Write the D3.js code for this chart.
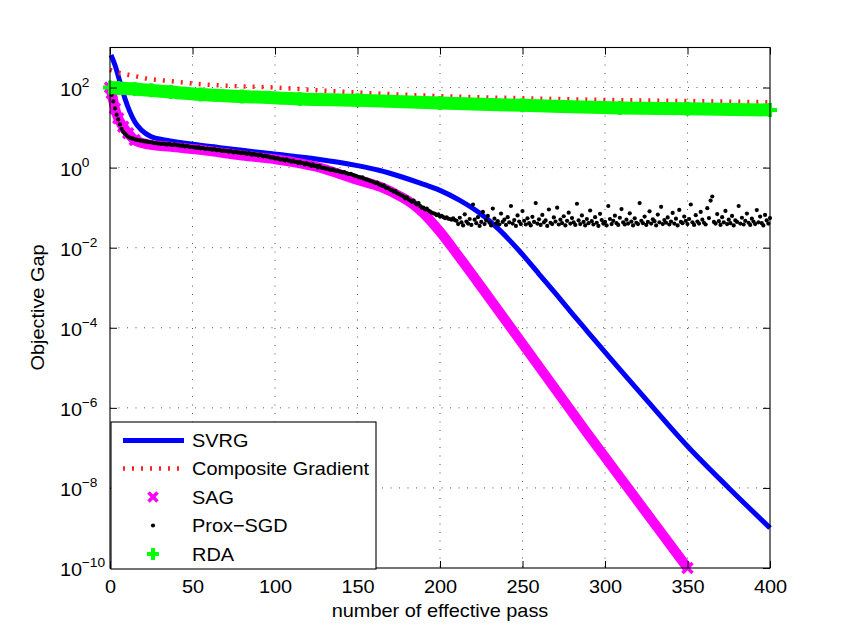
<!DOCTYPE html>
<html>
<head>
<meta charset="utf-8">
<script src="https://cdnjs.cloudflare.com/ajax/libs/d3/7.8.5/d3.min.js"></script>
<style>
  body { margin: 0; background: #fff; }
</style>
</head>
<body>
<div id="main"></div>
<script>
// values (x = effective passes, y = objective gap)
let svrgPass = [0.6, 3, 6, 9, 12, 15, 19, 25, 33, 47, 63, 80, 101, 125, 150, 163, 176, 188, 200, 212, 224, 236, 248, 260, 270, 280, 290, 300, 325, 350, 375, 400]
let svrgGap = [650, 365, 140, 54, 25, 14, 8.7, 5.9, 4.9, 4.0, 3.3, 2.7, 2.15, 1.65, 1.12, 0.86, 0.6, 0.41, 0.27, 0.152, 0.0733, 0.0279, 8.4e-3, 2.2e-3, 7.2e-4, 2.3e-4, 7.5e-5, 2.45e-5, 1.6e-6, 1.1e-7, 1.0e-8, 1.0e-9]

let compPass = [0, 5, 12, 18, 23, 29, 34, 40, 45, 50, 62, 80, 100, 125, 150, 175, 200, 250, 300, 350, 400]
let compGap = [275, 235, 205, 182, 165, 155, 148, 140, 133, 126, 116, 107, 100, 86, 75, 67, 61, 54, 49, 46, 43]

let sagPass = [0, 1, 3, 5, 8, 11, 15, 23, 37, 57, 80, 101, 125, 150, 164, 176, 184, 190, 200, 212, 228, 289, 350]
let sagGap = [100, 72, 30, 17, 10.5, 7.2, 4.9, 3.8, 3.3, 2.7, 2.0, 1.6, 1.05, 0.49, 0.33, 0.19, 0.118, 0.072, 0.025, 5.6e-3, 7.1e-4, 2.4e-7, 1e-10]

// one Prox-SGD point per pass, 0..400
let proxGap = [
  100, 65, 45, 30, 21, 16, 12, 9.3, 7.9, 7.1,
  6.4, 5.9, 5.6, 5.4, 5.3, 5.1, 5.0, 4.9, 4.8, 4.7,
  4.6, 4.5, 4.5, 4.4, 4.3, 4.3, 4.2, 4.1, 4.1, 4.0,
  4.0, 3.9, 4.0, 3.9, 3.8, 3.8, 3.9, 3.7, 3.7, 3.8,
  3.7, 3.6, 3.6, 3.5, 3.6, 3.4, 3.4, 3.5, 3.3, 3.3,
  3.3, 3.2, 3.2, 3.1, 3.2, 3.0, 3.1, 3.0, 2.9, 3.0,
  2.9, 2.9, 2.8, 2.9, 2.8, 2.7, 2.8, 2.7, 2.6, 2.7,
  2.6, 2.6, 2.5, 2.6, 2.5, 2.4, 2.5, 2.4, 2.4, 2.3,
  2.4, 2.3, 2.3, 2.2, 2.3, 2.2, 2.1, 2.2, 2.1, 2.1,
  2.0, 2.1, 2.0, 1.9, 2.0, 1.9, 1.9, 1.8, 1.8, 1.8,
  1.7, 1.7, 1.7, 1.6, 1.6, 1.6, 1.5, 1.6, 1.5, 1.5,
  1.4, 1.5, 1.4, 1.4, 1.3, 1.4, 1.3, 1.3, 1.2, 1.3,
  1.2, 1.2, 1.1, 1.2, 1.1, 1.1, 1.0, 1.1, 1.0, 0.98,
  0.97, 0.93, 0.95, 0.9, 0.88, 0.9, 0.85, 0.83, 0.84, 0.8,
  0.78, 0.76, 0.77, 0.73, 0.71, 0.69, 0.7, 0.66, 0.64, 0.62,
  0.6, 0.58, 0.56, 0.57, 0.53, 0.51, 0.5, 0.48, 0.46, 0.45,
  0.43, 0.41, 0.42, 0.38, 0.37, 0.35, 0.36, 0.32, 0.31, 0.3,
  0.28, 0.27, 0.25, 0.26, 0.23, 0.22, 0.21, 0.2, 0.19, 0.17,
  0.18, 0.16, 0.15, 0.14, 0.15, 0.13, 0.12, 0.13, 0.11, 0.1,
  0.1, 0.09, 0.095, 0.085, 0.08, 0.075, 0.072, 0.07, 0.065, 0.068,
  0.06, 0.062, 0.058, 0.055, 0.057, 0.053, 0.052, 0.05, 0.054, 0.049,
  0.047, 0.039, 0.056, 0.043, 0.036, 0.068, 0.045, 0.04, 0.052, 0.037,
  0.12, 0.05, 0.041, 0.058, 0.035, 0.044, 0.078, 0.039, 0.048, 0.062,
  0.042, 0.036, 0.095, 0.053, 0.04, 0.046, 0.038, 0.071, 0.044, 0.05,
  0.037, 0.058, 0.043, 0.11, 0.04, 0.049, 0.035, 0.064, 0.045, 0.039,
  0.082, 0.047, 0.038, 0.054, 0.041, 0.036, 0.059, 0.044, 0.13, 0.04,
  0.051, 0.037, 0.066, 0.043, 0.048, 0.035, 0.09, 0.042, 0.039, 0.057,
  0.045, 0.1, 0.038, 0.05, 0.041, 0.061, 0.036, 0.047, 0.075, 0.04,
  0.055, 0.043, 0.037, 0.125, 0.048, 0.039, 0.064, 0.044, 0.036, 0.052,
  0.041, 0.085, 0.046, 0.038, 0.058, 0.042, 0.035, 0.07, 0.049, 0.04,
  0.044, 0.036, 0.11, 0.052, 0.039, 0.047, 0.063, 0.041, 0.037, 0.056,
  0.092, 0.043, 0.038, 0.05, 0.04, 0.072, 0.045, 0.036, 0.054, 0.042,
  0.039, 0.13, 0.047, 0.041, 0.06, 0.037, 0.044, 0.081, 0.04, 0.051,
  0.046, 0.036, 0.067, 0.043, 0.105, 0.039, 0.049, 0.042, 0.057, 0.038,
  0.045, 0.074, 0.04, 0.053, 0.036, 0.088, 0.044, 0.041, 0.06, 0.047,
  0.039, 0.052, 0.12, 0.043, 0.037, 0.065, 0.045, 0.04, 0.078, 0.05,
  0.042, 0.038, 0.097, 0.055, 0.15, 0.19, 0.044, 0.04, 0.069, 0.046,
  0.037, 0.058, 0.043, 0.083, 0.039, 0.05, 0.041, 0.062, 0.036, 0.048,
  0.044, 0.11, 0.04, 0.056, 0.038, 0.047, 0.071, 0.042, 0.037, 0.053,
  0.045, 0.039, 0.087, 0.043, 0.06, 0.041, 0.036, 0.066, 0.048, 0.04, 0.055
]

let rdaPass = [0, 5, 15, 25, 37, 55, 80, 115, 150, 200, 250, 309, 350, 400]
let rdaGap = [100, 97, 92, 85, 77, 67, 60, 52, 48, 41, 36, 31, 29.5, 27.5]

let xTicks = [0, 50, 100, 150, 200, 250, 300, 350, 400]
let yExps = [-10, -8, -6, -4, -2, 0, 2]
let legendNames = ["SVRG", "Composite Gradient", "SAG", "Prox\u2212SGD", "RDA"]

let width = 850
let height = 639
let plotL = 110, plotR = 770, plotT = 47.5, plotB = 568
let font = "'Liberation Sans', Arial, Helvetica, sans-serif"
let fs = 18.8
let sx = 1.06   // the source text is a little wider than Arial

let svg = d3.select('#main')
            .append('svg')
            .attr('width', width)
            .attr('height', height)

let xScale = d3.scaleLinear().domain([0, 400]).range([plotL, plotR])
let yScale = d3.scaleLog().domain([1e-10, 1e3]).range([plotB, plotT])
let yTicks = yExps.map((e) => Math.pow(10, e))

// dotted grid
let grid = svg.append('g')
    .attr('stroke', '#555')
    .attr('stroke-width', 1)
    .attr('stroke-dasharray', '1,7.5')
grid.selectAll('.vg')
    .data(xTicks.filter((d) => d > 0 && d < 400))
    .enter().append('line')
    .attr('x1', (d) => xScale(d)).attr('x2', (d) => xScale(d))
    .attr('y1', plotT).attr('y2', plotB)
grid.selectAll('.hg')
    .data(yTicks.filter((d) => d > 1e-10))
    .enter().append('line')
    .attr('x1', plotL).attr('x2', plotR)
    .attr('y1', (d) => yScale(d)).attr('y2', (d) => yScale(d))

let line = (passes) => d3.line()
    .x((d, i) => xScale(passes[i]))
    .y((d) => yScale(d))
    .curve(d3.curveMonotoneX)

let crossPath = (s) => `M${-s},${-s}L${s},${s}M${-s},${s}L${s},${-s}`
let plusPath = (s) => `M${-s},0L${s},0M0,${-s}L0,${s}`

// SVRG
svg.append('path')
    .datum(svrgGap)
    .attr('d', line(svrgPass))
    .attr('fill', 'none')
    .attr('stroke', '#0000ff')
    .attr('stroke-width', 5)
    .attr('stroke-linejoin', 'round')

// Composite Gradient
svg.append('path')
    .datum(compGap)
    .attr('d', line(compPass))
    .attr('fill', 'none')
    .attr('stroke', '#ff2020')
    .attr('stroke-width', 4.5)
    .attr('stroke-dasharray', '2,7')

// SAG: thick band, separate markers only where they stand apart (start, end)
svg.append('path')
    .datum(sagGap)
    .attr('d', line(sagPass))
    .attr('fill', 'none')
    .attr('stroke', '#ff00ff')
    .attr('stroke-width', 10)
    .attr('stroke-linejoin', 'round')
svg.append('g').selectAll('path')
    .data(sagGap.map((d, i) => [sagPass[i], d]).filter((d, i) => i < 7 || i === sagGap.length - 1))
    .enter().append('path')
    .attr('transform', (d) => `translate(${xScale(d[0])},${yScale(d[1])})`)
    .attr('d', crossPath(5))
    .attr('stroke', '#ff00ff')
    .attr('stroke-width', 3.5)

// Prox-SGD
svg.append('g').selectAll('circle')
    .data(proxGap)
    .enter().append('circle')
    .attr('cx', (d, i) => xScale(i))
    .attr('cy', (d) => yScale(d))
    .attr('r', 2.1)
    .attr('fill', '#000')

// RDA
svg.append('path')
    .datum(rdaGap)
    .attr('d', line(rdaPass))
    .attr('fill', 'none')
    .attr('stroke', '#00ff00')
    .attr('stroke-width', 13)
svg.append('g').selectAll('path')
    .data(rdaGap)
    .enter().append('path')
    .attr('transform', (d, i) => `translate(${xScale(rdaPass[i])},${yScale(d)})`)
    .attr('d', plusPath(7))
    .attr('stroke', '#00ff00')
    .attr('stroke-width', 4)

// axes (ticks inside on all four sides)
let styleAxis = (g) => {
    g.select('.domain').remove()
    g.selectAll('.tick line').attr('stroke', '#000')
    g.attr('font-family', font).attr('font-size', fs)
}

svg.append('g')
    .attr('transform', `translate(0,${plotB})`)
    .call(d3.axisBottom(xScale).tickValues(xTicks).tickSize(-7).tickSizeOuter(0).tickPadding(12))
    .call(styleAxis)
    .selectAll('text')
    .attr('fill', '#000')
    .attr('transform', `scale(${sx},1)`)

svg.append('g')
    .attr('transform', `translate(0,${plotT})`)
    .call(d3.axisTop(xScale).tickValues(xTicks).tickSize(-7).tickSizeOuter(0).tickFormat(''))
    .call(styleAxis)

svg.append('g')
    .attr('transform', `translate(${plotL},0)`)
    .call(d3.axisLeft(yScale).tickValues(yTicks).tickSize(-7).tickSizeOuter(0).tickFormat(''))
    .call(styleAxis)

svg.append('g')
    .attr('transform', `translate(${plotR},0)`)
    .call(d3.axisRight(yScale).tickValues(yTicks).tickSize(-7).tickSizeOuter(0).tickFormat(''))
    .call(styleAxis)

// y tick labels as 10^n
let ylab = svg.append('g').attr('font-family', font).attr('fill', '#000')
let yl = ylab.selectAll('g')
    .data(yExps)
    .enter().append('g')
    .attr('transform', (d) => `translate(60,${yScale(Math.pow(10, d)) + 8}) scale(${sx},1)`)
yl.append('text')
    .attr('font-size', fs)
    .text('10')
yl.append('text')
    .attr('x', 20.6)
    .attr('y', -8.8)
    .attr('font-size', 13)
    .text((d) => d < 0 ? '\u2212' + (-d) : String(d))

// box
svg.append('rect')
    .attr('x', plotL).attr('y', plotT)
    .attr('width', plotR - plotL).attr('height', plotB - plotT)
    .attr('fill', 'none')
    .attr('stroke', '#000')
    .attr('stroke-width', 1.1)

// axis titles
svg.append('text')
    .attr('transform', `translate(440,617) scale(${sx},1)`)
    .attr('text-anchor', 'middle')
    .attr('font-family', font)
    .attr('font-size', fs)
    .text('number of effective pass')

svg.append('text')
    .attr('transform', `translate(43.5,307.5) rotate(-90) scale(${sx},1)`)
    .attr('text-anchor', 'middle')
    .attr('font-family', font)
    .attr('font-size', fs)
    .text('Objective Gap')

// legend
let legend = svg.append('g').attr('id', 'legend')
legend.append('rect')
    .attr('x', 111).attr('y', 422)
    .attr('width', 265).attr('height', 147)
    .attr('fill', '#fff')
    .attr('stroke', '#000')
    .attr('stroke-width', 1.1)

let rowY = [440.5, 468.5, 497, 525.5, 554]

legend.append('line')
    .attr('x1', 123).attr('x2', 184)
    .attr('y1', rowY[0]).attr('y2', rowY[0])
    .attr('stroke', '#0000ff').attr('stroke-width', 5)
legend.append('line')
    .attr('x1', 123).attr('x2', 184)
    .attr('y1', rowY[1]).attr('y2', rowY[1])
    .attr('stroke', '#ff2020').attr('stroke-width', 4.5)
    .attr('stroke-dasharray', '2,7')
legend.append('path')
    .attr('transform', `translate(153,${rowY[2]})`)
    .attr('d', crossPath(4.5))
    .attr('stroke', '#ff00ff').attr('stroke-width', 3.5)
legend.append('circle')
    .attr('cx', 153).attr('cy', rowY[3]).attr('r', 2.1)
    .attr('fill', '#000')
legend.append('path')
    .attr('transform', `translate(153,${rowY[4]})`)
    .attr('d', plusPath(6))
    .attr('stroke', '#00ff00').attr('stroke-width', 4)

legend.selectAll('.legend-label')
    .data(legendNames)
    .enter().append('text')
    .classed('legend-label', true)
    .attr('transform', (d, i) => `translate(192,${rowY[i] + 6.7}) scale(${sx},1)`)
    .attr('font-family', font)
    .attr('font-size', fs)
    .attr('fill', '#000')
    .text((d) => d)
</script>
</body>
</html>
